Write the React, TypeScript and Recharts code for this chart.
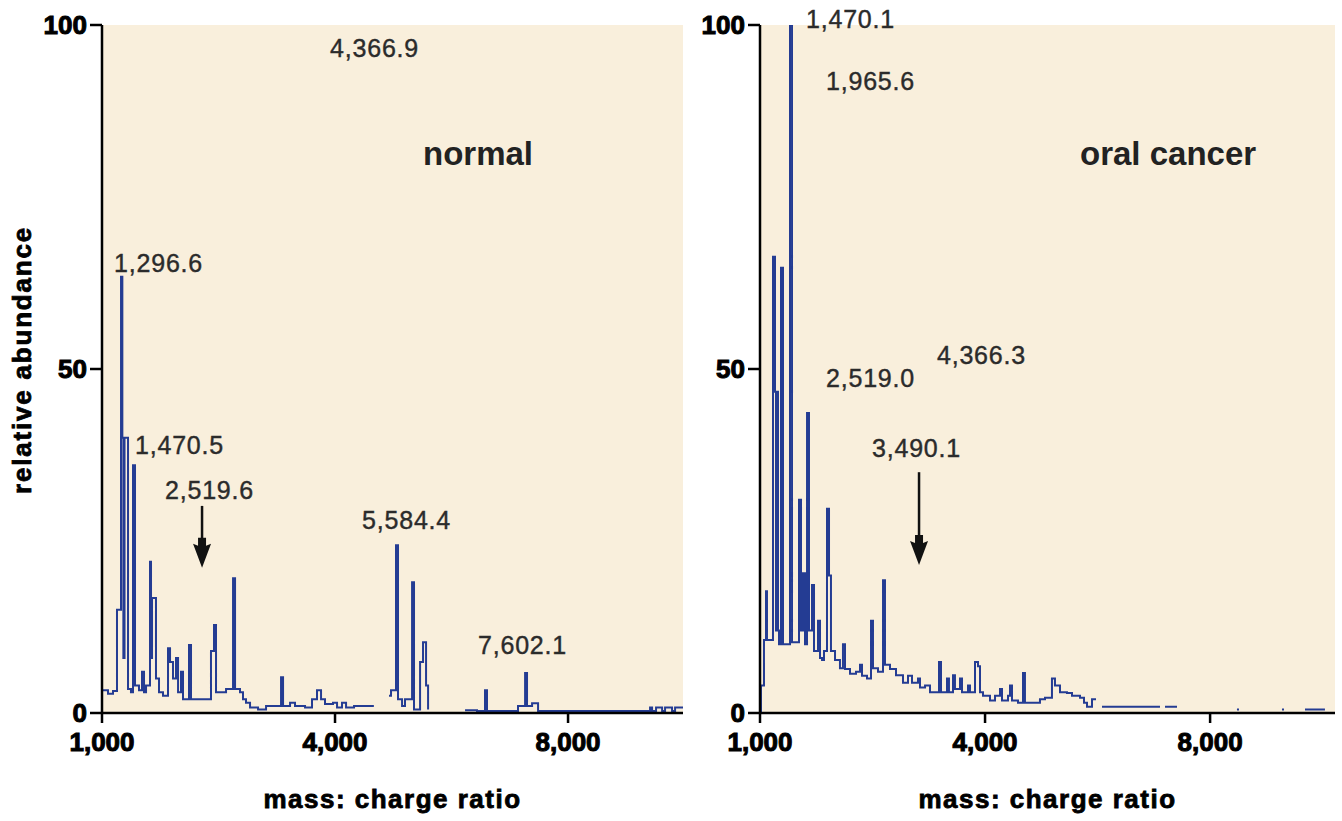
import { LineChart, Line, XAxis, YAxis, ReferenceArea, ReferenceLine, ReferenceDot } from 'recharts';

// m/z positions and relative intensities
const normalMz = [
  1013, 1077, 1142, 1193, 1245, 1262, 1275, 1290, 1335, 1373, 1399, 1425, 1476, 1515, 1541, 1567,
  1618, 1631, 1644, 1695, 1734, 1785, 1850, 1876, 1914, 1953, 1979, 2017, 2043, 2120, 2146, 2210,
  2326, 2403, 2442, 2468, 2545, 2597, 2687, 2713, 2777, 2815, 2854, 2906, 3009, 3112, 3305, 3331,
  3421, 3485, 3614, 3704, 3768, 3820, 3871, 3974, 4026, 4090, 4142, 4245, 4500, 4515, 4695, 4721,
  4785, 4811, 4863, 4901, 4953, 4992, 5017, 5095, 5133, 5172, 5198, 5210, 5674, 5803, 5828, 5931,
  5957, 6356, 6447, 6472, 6537, 6614, 8056, 8082, 8133, 8211, 8249, 8339, 8378, 8481,
];
const normalIntensity = [
  3.3, 2.8, 3.2, 15, 63.4, 40, 8, 40, 3.5, 3, 36, 4, 3.3, 6, 3, 4,
  22, 8, 16.7, 5, 3, 2.5, 9.4, 7.4, 5, 8, 3, 6, 2, 9.9, 2, 2,
  2, 9, 12.8, 3, 3, 3.5, 19.6, 3.5, 3, 2, 1.5, 0.8, 0.5, 1, 5.2, 1,
  1.5, 1, 0.8, 2, 3.3, 2, 1.3, 1.5, 0.8, 1.5, 0.8, 1, 1, null, 2.5, 3.3,
  24.4, 2, 1, 2, 2, 19, 0.5, 7.4, 10.3, 4, 0.5, null, 0.4, 0.4, 0.3, 3.3,
  0.3, 1, 5.8, 1, 1.4, 0.3, 0.8, 0.3, 0.8, 0.3, 0.8, 0.3, 0.8, 0.8,
];

// m/z positions and relative intensities
const cancerMz = [
  1000, 1013, 1053, 1080, 1093, 1173, 1200, 1213, 1226, 1240, 1253, 1280, 1307, 1347, 1400, 1427,
  1493, 1520, 1547, 1573, 1600, 1627, 1653, 1693, 1720, 1773, 1800, 1827, 1853, 1893, 1920, 1946,
  2000, 2066, 2106, 2133, 2200, 2280, 2333, 2360, 2426, 2480, 2506, 2573, 2640, 2666, 2733, 2813,
  2906, 2973, 3026, 3106, 3133, 3200, 3266, 3333, 3386, 3413, 3493, 3519, 3573, 3599, 3666, 3693,
  3773, 3799, 3866, 3906, 3933, 3973, 4066, 4133, 4199, 4226, 4306, 4333, 4359, 4439, 4506, 4532,
  4732, 4799, 4892, 4932, 4999, 5092, 5159, 5266, 5319, 5359, 5426, 5479, 5492, 5559, 6332, 6346,
  6399, 6559, 6572, 7358, 7385, 7398, 7958, 7985, 7998, 8265, 8531, 8545,
];
const cancerIntensity = [
  0, 4, 10.6, 17.7, 10.6, 66.3, 46.7, 12, 46.7, 12, 10, 64.7, 10, 10, 100, 10.3,
  10.3, 31, 12, 20.3, 10, 43.6, 12, 18.6, 9, 13.4, 8, 7.7, 9, 29.7, 20, 9,
  7.7, 6.5, 10, 6.4, 5.7, 6, 7, 5.4, 5, 13.4, 6.5, 6, 19.3, 7, 6.4, 5.5,
  4.4, 5.4, 4.4, 5, 3.7, 4, 3, 3, 7.4, 3, 5, 3, 5.5, 3.5, 5, 3,
  4, 3, 7.4, 6.8, 3, 2.5, 1.8, 2.5, 3.5, 1.8, 2.5, 4, 1.8, 1.5, 5.8, 1.5,
  2, 2.2, 5, 4, 3, 2.9, 2.5, 2.2, 1.5, 0.9, 2, 2, null, 0.9, 0.9, null,
  0.9, 0.9, null, 0.5, 0.5, null, 0.5, 0.5, null, 0.5, 0.5, null,
];

const xTicks = [1000, 4000, 7000];
const xTickLabels = ['1,000', '4,000', '8,000'];
const yTicks = [0, 50, 100];

// peak labels: text, m/z where text starts, intensity at baseline
const normalNotes = [
  { text: '4,366.9', mz: 3936, y: 95.3 },
  { text: '1,296.6', mz: 1155, y: 64.1 },
  { text: '1,470.5', mz: 1425, y: 37.6 },
  { text: '2,519.6', mz: 1811, y: 31.1 },
  { text: '5,584.4', mz: 4348, y: 26.7 },
  { text: '7,602.1', mz: 5841, y: 8.6 },
];
const cancerNotes = [
  { text: '1,470.1', mz: 1613, y: 99.6 },
  { text: '1,965.6', mz: 1880, y: 90.6 },
  { text: '2,519.0', mz: 1880, y: 47.4 },
  { text: '4,366.3', mz: 3359, y: 50.7 },
  { text: '3,490.1', mz: 2493, y: 37.2 },
];
const normalArrow = { mz: 2288, from: 30.1, to: 21.1 };
const cancerArrow = { mz: 3120, from: 35, to: 21.5 };

const BEIGE = '#f9efdc';
const BLUE = '#243c93';
const FONT = "'Liberation Sans', Arial, sans-serif";

const tickStyle = { fontFamily: FONT, fontSize: 26, fontWeight: 700, fill: '#000', stroke: '#000', strokeWidth: 1 };

interface PanelProps {
  mz: number[];
  intensity: (number | null)[];
  width: number;
  yAxisWidth: number;
  xMax: number;
  notes: { text: string; mz: number; y: number }[];
  arrow: { mz: number; from: number; to: number };
  title: string;
  titleMz: number;
  showYLabel: boolean;
}

function Panel({ mz, intensity, width, yAxisWidth, xMax, notes, arrow, title, titleMz, showYLabel }: PanelProps) {
  const data = mz.map((m, i) => ({ mz: m, v: intensity[i] }));
  return (
    <LineChart width={width} height={821} data={data} margin={{ top: 25, right: 7, bottom: 0, left: 0 }}>
      <ReferenceArea x1={1000} x2={xMax} y1={0} y2={100} fill={BEIGE} fillOpacity={1} stroke="none" />
      <XAxis
        dataKey="mz"
        type="number"
        domain={[1000, xMax]}
        ticks={xTicks}
        allowDataOverflow
        height={108}
        tickSize={10}
        tickMargin={10}
        tickFormatter={(v, i) => xTickLabels[i]}
        tick={tickStyle}
        axisLine={{ stroke: '#000', strokeWidth: 2.5 }}
        tickLine={{ stroke: '#000', strokeWidth: 2.5 }}
        label={{ value: 'mass: charge ratio', position: 'insideBottom', offset: 13, style: { fontFamily: FONT, fontSize: 26, fontWeight: 700, letterSpacing: 1.5, fill: '#000', stroke: '#000', strokeWidth: 0.8 } }}
      />
      <YAxis
        type="number"
        domain={[0, 100]}
        ticks={yTicks}
        allowDataOverflow
        width={yAxisWidth}
        tickSize={12}
        tickMargin={3}
        tick={tickStyle}
        axisLine={{ stroke: '#000', strokeWidth: 2.5 }}
        tickLine={{ stroke: '#000', strokeWidth: 2.5 }}
        label={showYLabel ? {
          content: (p: any) => {
            const vb = p.viewBox;
            const cx = vb.x + 22;
            const cy = vb.y + vb.height / 2 - 9;
            return (
              <text x={cx} y={cy} transform={`rotate(-90 ${cx} ${cy})`} textAnchor="middle" dominantBaseline="central"
                style={{ fontFamily: FONT, fontSize: 26, fontWeight: 700, letterSpacing: 1.8, fill: '#000', stroke: '#000', strokeWidth: 0.8 }}>
                relative abundance
              </text>
            );
          },
        } : undefined}
      />
      <Line dataKey="v" type="stepAfter" stroke={BLUE} strokeWidth={2} dot={false} isAnimationActive={false} connectNulls={false} />
      <ReferenceDot
        x={titleMz}
        y={79.7}
        r={0}
        ifOverflow="visible"
        shape={(p: any) => (
          <text x={p.cx} y={p.cy} style={{ fontFamily: FONT, fontSize: 33, fontWeight: 700, fill: '#222' }}>{title}</text>
        )}
      />
      {notes.map((n) => (
        <ReferenceDot
          key={n.text}
          x={n.mz}
          y={n.y}
          r={0}
          ifOverflow="visible"
          shape={(p: any) => (
            <text x={p.cx} y={p.cy} style={{ fontFamily: FONT, fontSize: 25, letterSpacing: 0.8, fill: '#2b2b2b', stroke: '#2b2b2b', strokeWidth: 0.4 }}>{n.text}</text>
          )}
        />
      ))}
      <ReferenceLine segment={[{ x: arrow.mz, y: arrow.from }, { x: arrow.mz, y: arrow.to + 2 }]} stroke="#111" strokeWidth={2.5} />
      <ReferenceDot
        x={arrow.mz}
        y={arrow.to}
        r={0}
        ifOverflow="visible"
        shape={(p: any) => (
          <path d={`M${p.cx},${p.cy} L${p.cx - 9},${p.cy - 24} L${p.cx - 4},${p.cy - 22} L${p.cx - 4},${p.cy - 30} L${p.cx + 4},${p.cy - 30} L${p.cx + 4},${p.cy - 22} L${p.cx + 9},${p.cy - 24} Z`} fill="#111" />
        )}
      />
    </LineChart>
  );
}

export default function App() {
  return (
    <div style={{ position: 'absolute', left: 0, top: 0, width: 1342, height: 821, background: '#fff', display: 'flex' }}>
      <Panel
        mz={normalMz}
        intensity={normalIntensity}
        width={690}
        yAxisWidth={102}
        xMax={8480}
        notes={normalNotes}
        arrow={normalArrow}
        title="normal"
        titleMz={5133}
        showYLabel
      />
      <Panel
        mz={cancerMz}
        intensity={cancerIntensity}
        width={652}
        yAxisWidth={70}
        xMax={8665}
        notes={cancerNotes}
        arrow={cancerArrow}
        title="oral cancer"
        titleMz={5266}
        showYLabel={false}
      />
    </div>
  );
}
